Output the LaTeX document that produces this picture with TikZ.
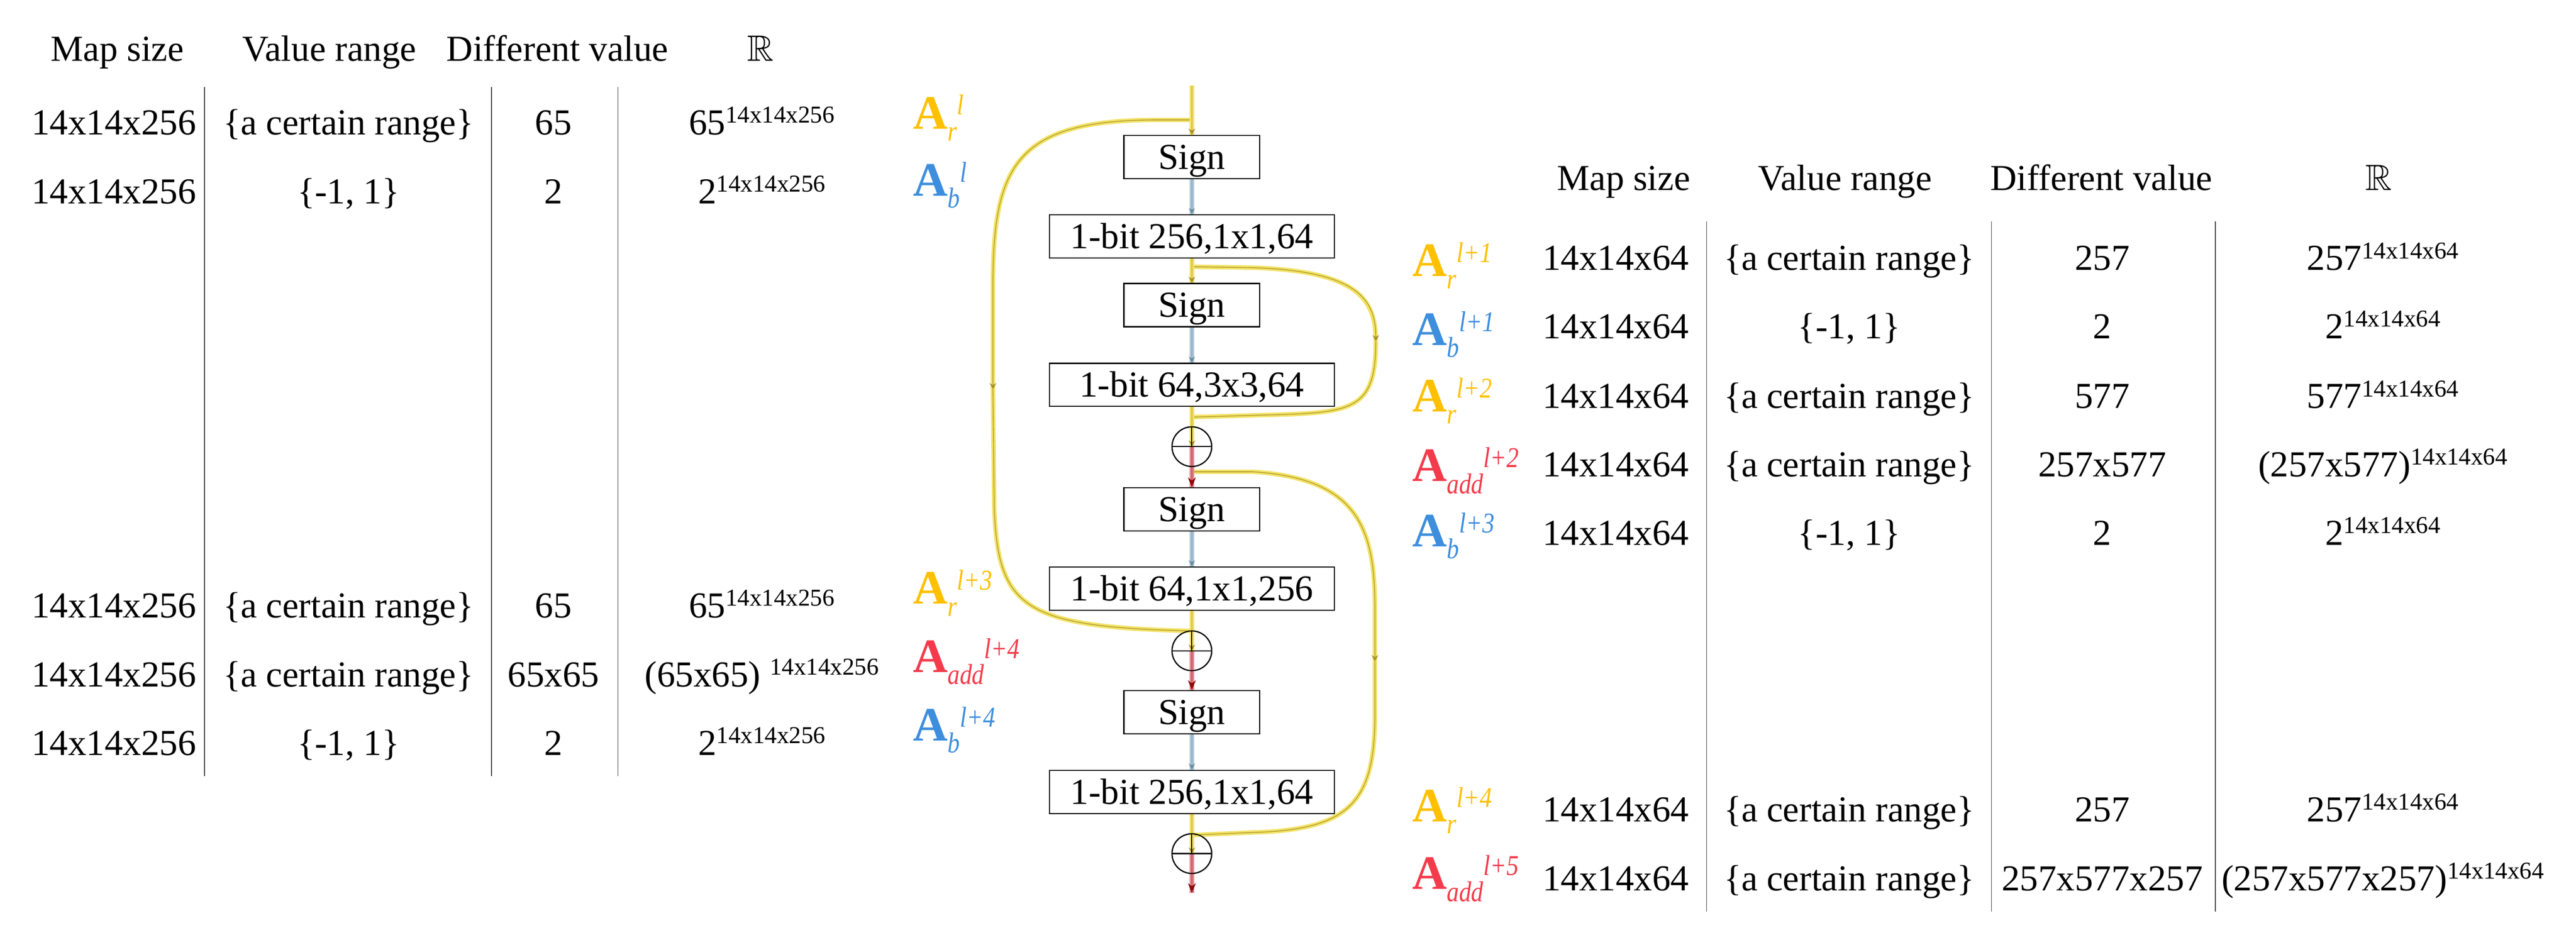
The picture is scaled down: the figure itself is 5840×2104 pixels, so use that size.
\documentclass[tikz,border=0pt]{standalone}
\usepackage{fontspec}
\setmainfont{Liberation Serif}
\newfontfamily\subf[FakeStretch=0.85]{Liberation Serif}
\usepackage{amssymb}
\usepackage{graphicx}
\usetikzlibrary{arrows.meta}
\definecolor{cgold}{HTML}{FFC000}
\definecolor{cblue}{HTML}{3E8EDE}
\definecolor{cred}{HTML}{F43B4C}
\definecolor{yhalo}{HTML}{F2E266}
\definecolor{ycore}{HTML}{A89228}
\definecolor{bhalo}{HTML}{AFC8D8}
\definecolor{bcore}{HTML}{6A8AA0}
\definecolor{rhalo}{HTML}{E48892}
\definecolor{rcore}{HTML}{9A1C1C}
\definecolor{rtip}{HTML}{8B0A0A}
\definecolor{tline}{HTML}{404040}
\newcommand{\supx}[1]{\raisebox{0.32em}{\fontsize{15.6pt}{18pt}\selectfont #1}}
\newcommand{\alab}[2]{{\fontsize{31pt}{34pt}\selectfont\bfseries A}\raisebox{-7.7pt}{\subf\itshape\fontsize{18.5pt}{20pt}\selectfont #1}\raisebox{9pt}{\subf\itshape\fontsize{18.5pt}{20pt}\selectfont #2}}
\tikzset{
  cell/.style={anchor=base, inner sep=0pt, font=\fontsize{23.6pt}{28pt}\selectfont},
  lab/.style={anchor=base west, inner sep=0pt},
  box/.style={draw=black, line width=0.25mm, fill=white, inner sep=0pt, minimum height=9.8mm, text height=15.6pt, text depth=0pt, font=\fontsize{23.6pt}{28pt}\selectfont},
  signbox/.style={box, minimum width=30.8mm},
  convbox/.style={box, minimum width=64.6mm},
  plus/.style={circle, draw=black, line width=0.25mm, minimum size=9mm, inner sep=0pt},
  yl/.style={draw=ycore, line width=0.15mm, preaction={draw=yhalo, line width=1.0mm, arrows=-}},
  bl/.style={draw=bcore, line width=0.15mm, preaction={draw=bhalo, line width=1.1mm, arrows=-}},
  rl/.style={draw=rcore, line width=0.15mm, preaction={draw=rhalo, line width=1.0mm, arrows=-}},
  ytip/.style={-{Stealth[length=1.4mm,width=1.5mm]}},
  btip/.style={-{Stealth[length=1.4mm,width=1.4mm]}},
  rtipst/.style={-{Stealth[length=2.2mm,width=1.8mm,color=rtip]}},
  tl/.style={draw=tline, line width=0.2mm}
}
\begin{document}
\begin{tikzpicture}[x=0.1mm,y=-0.1mm]
\useasboundingbox (0,0) rectangle (5840,2104);
\fill[white] (0,0) rectangle (5840,2104);

% ---------- left table ----------
\draw[tl] (464,197) -- (464,1760);
\draw[tl] (1114,197) -- (1114,1760);
\draw[tl] (1401,197) -- (1401,1760);
\node[cell] (lh1) at (266,138) {Map size};
\node[cell] (lh2) at (747,138) {Value range};
\node[cell] (lh3) at (1264,138) {Different value};
\node[cell] (lh4) at (1724,138) {$\mathbb{R}$};

\node[cell] (l11) at (258,305) {14x14x256};
\node[cell] (l12) at (790,305) {\{a certain range\}};
\node[cell] (l13) at (1255,305) {65};
\node[cell] (l14) at (1727,305) {65\supx{14x14x256}};

\node[cell] (l21) at (258,462) {14x14x256};
\node[cell] (l22) at (790,462) {\{-1, 1\}};
\node[cell] (l23) at (1255,462) {2};
\node[cell] (l24) at (1727,462) {2\supx{14x14x256}};

\node[cell] (l31) at (258,1401) {14x14x256};
\node[cell] (l32) at (790,1401) {\{a certain range\}};
\node[cell] (l33) at (1255,1401) {65};
\node[cell] (l34) at (1727,1401) {65\supx{14x14x256}};

\node[cell] (l41) at (258,1557) {14x14x256};
\node[cell] (l42) at (790,1557) {\{a certain range\}};
\node[cell] (l43) at (1255,1557) {65x65};
\node[cell] (l44) at (1727,1557) {(65x65) \supx{14x14x256}};

\node[cell] (l51) at (258,1713) {14x14x256};
\node[cell] (l52) at (790,1713) {\{-1, 1\}};
\node[cell] (l53) at (1255,1713) {2};
\node[cell] (l54) at (1727,1713) {2\supx{14x14x256}};

% ---------- right table ----------
\draw[tl] (3869,502) -- (3869,2067);
\draw[tl] (4515,502) -- (4515,2067);
\draw[tl] (5022,502) -- (5022,2067);
\node[cell] (rh1) at (3681,431) {Map size};
\node[cell] (rh2) at (4183,431) {Value range};
\node[cell] (rh3) at (4764,431) {Different value};
\node[cell] (rh4) at (5393,431) {$\mathbb{R}$};

\node[cell] (r11) at (3663,613) {14x14x64};
\node[cell] (r12) at (4192,613) {\{a certain range\}};
\node[cell] (r13) at (4766,613) {257};
\node[cell] (r14) at (5402,613) {257\supx{14x14x64}};

\node[cell] (r21) at (3663,768) {14x14x64};
\node[cell] (r22) at (4192,768) {\{-1, 1\}};
\node[cell] (r23) at (4766,768) {2};
\node[cell] (r24) at (5402,768) {2\supx{14x14x64}};

\node[cell] (r31) at (3663,926) {14x14x64};
\node[cell] (r32) at (4192,926) {\{a certain range\}};
\node[cell] (r33) at (4766,926) {577};
\node[cell] (r34) at (5402,926) {577\supx{14x14x64}};

\node[cell] (r41) at (3663,1081) {14x14x64};
\node[cell] (r42) at (4192,1081) {\{a certain range\}};
\node[cell] (r43) at (4766,1081) {257x577};
\node[cell] (r44) at (5402,1081) {(257x577)\supx{14x14x64}};

\node[cell] (r51) at (3663,1236) {14x14x64};
\node[cell] (r52) at (4192,1236) {\{-1, 1\}};
\node[cell] (r53) at (4766,1236) {2};
\node[cell] (r54) at (5402,1236) {2\supx{14x14x64}};

\node[cell] (r61) at (3663,1863) {14x14x64};
\node[cell] (r62) at (4192,1863) {\{a certain range\}};
\node[cell] (r63) at (4766,1863) {257};
\node[cell] (r64) at (5402,1863) {257\supx{14x14x64}};

\node[cell] (r71) at (3663,2020) {14x14x64};
\node[cell] (r72) at (4192,2020) {\{a certain range\}};
\node[cell] (r73) at (4766,2020) {257x577x257};
\node[cell] (r74) at (5402,2020) {(257x577x257)\supx{14x14x64}};

% ---------- labels ----------
\node[lab, text=cgold] (aL1) at (2069,292) {\alab{r}{l}};
\node[lab, text=cblue] (aL2) at (2069,444) {\alab{b}{l}};
\node[lab, text=cgold] (aL3) at (2069,1370) {\alab{r}{l+3}};
\node[lab, text=cred]  (aL4) at (2069,1525) {\alab{add}{l+4}};
\node[lab, text=cblue] (aL5) at (2069,1680) {\alab{b}{l+4}};

\node[lab, text=cgold] (aR1) at (3201,627) {\alab{r}{l+1}};
\node[lab, text=cblue] (aR2) at (3201,783) {\alab{b}{l+1}};
\node[lab, text=cgold] (aR3) at (3201,934) {\alab{r}{l+2}};
\node[lab, text=cred]  (aR4) at (3201,1092) {\alab{add}{l+2}};
\node[lab, text=cblue] (aR5) at (3201,1240) {\alab{b}{l+3}};
\node[lab, text=cgold] (aR6) at (3201,1863) {\alab{r}{l+4}};
\node[lab, text=cred]  (aR7) at (3201,2017) {\alab{add}{l+5}};

% ---------- flow nodes ----------
\node[signbox] (s1) at (2702,356) {Sign};
\node[convbox] (c1) at (2702,536) {1-bit 256,1x1,64};
\node[signbox] (s2) at (2702,692) {Sign};
\node[convbox] (c2) at (2702,873) {1-bit 64,3x3,64};
\node[plus] (p1) at (2702,1013) {};
\node[signbox] (s3) at (2702,1155) {Sign};
\node[convbox] (c3) at (2702,1335) {1-bit 64,1x1,256};
\node[plus] (p2) at (2702,1476) {};
\node[signbox] (s4) at (2702,1615) {Sign};
\node[convbox] (c4) at (2702,1796) {1-bit 256,1x1,64};
\node[plus] (p3) at (2702,1936) {};

\coordinate (top) at (2702,194);
\coordinate (bL) at (2702,272);
\coordinate (bR1) at (2702,605);
\coordinate (jR1) at (2702,946);
\coordinate (bR2) at (2702,1070);
\coordinate (jL) at (2702,1431);
\coordinate (jR2) at (2702,1894);
\coordinate (mL) at (2251,883);
\coordinate (mR1) at (3119,774);
\coordinate (mR2) at (3117,1500);
\coordinate (out) at (2702,2025);

% ---------- shortcut (yellow) branches ----------
\draw[yl, ytip] (bL) -- (2610,272) .. controls (2300,275) and (2251,380) .. (2251,650) -- (mL);
\draw[yl] (mL) -- (2254,1150) .. controls (2262,1380) and (2320,1422) .. (jL);
\draw[yl, ytip] (bR1) -- (2840,607) .. controls (3080,615) and (3119,680) .. (mR1);
\draw[yl] (mR1) .. controls (3119,940) and (3060,936) .. (2840,942) -- (jR1);
\draw[yl, ytip] (bR2) -- (2840,1070) .. controls (3080,1085) and (3117,1200) .. (3117,1380) -- (mR2);
\draw[yl] (mR2) -- (3117,1620) .. controls (3117,1820) and (3060,1882) .. (2840,1888) -- (jR2);

% ---------- main line ----------
\draw[yl, ytip] (top) -- (s1.north);
\draw[bl, btip] (s1.south) -- (c1.north);
\draw[yl, ytip] (c1.south) -- (s2.north);
\draw[bl, btip] (s2.south) -- (c2.north);
\draw[yl, ytip] (c2.south) -- (p1.center);
\draw[rl, rtipst] (p1.center) -- (s3.north);
\draw[bl, btip] (s3.south) -- (c3.north);
\draw[yl, ytip] (c3.south) -- (p2.center);
\draw[rl, rtipst] (p2.center) -- (s4.north);
\draw[bl, btip] (s4.south) -- (c4.north);
\draw[yl, ytip] (c4.south) -- (p3.center);
\draw[rl, rtipst] (p3.center) -- (out);

% plus signs
\foreach \p in {p1,p2,p3}{
  \node[plus] at (\p) {};
  \draw[black, line width=0.25mm] (\p.west) -- (\p.east);
  \draw[black, line width=0.25mm] (\p.north) -- (\p.center);
}
\end{tikzpicture}
\end{document}
